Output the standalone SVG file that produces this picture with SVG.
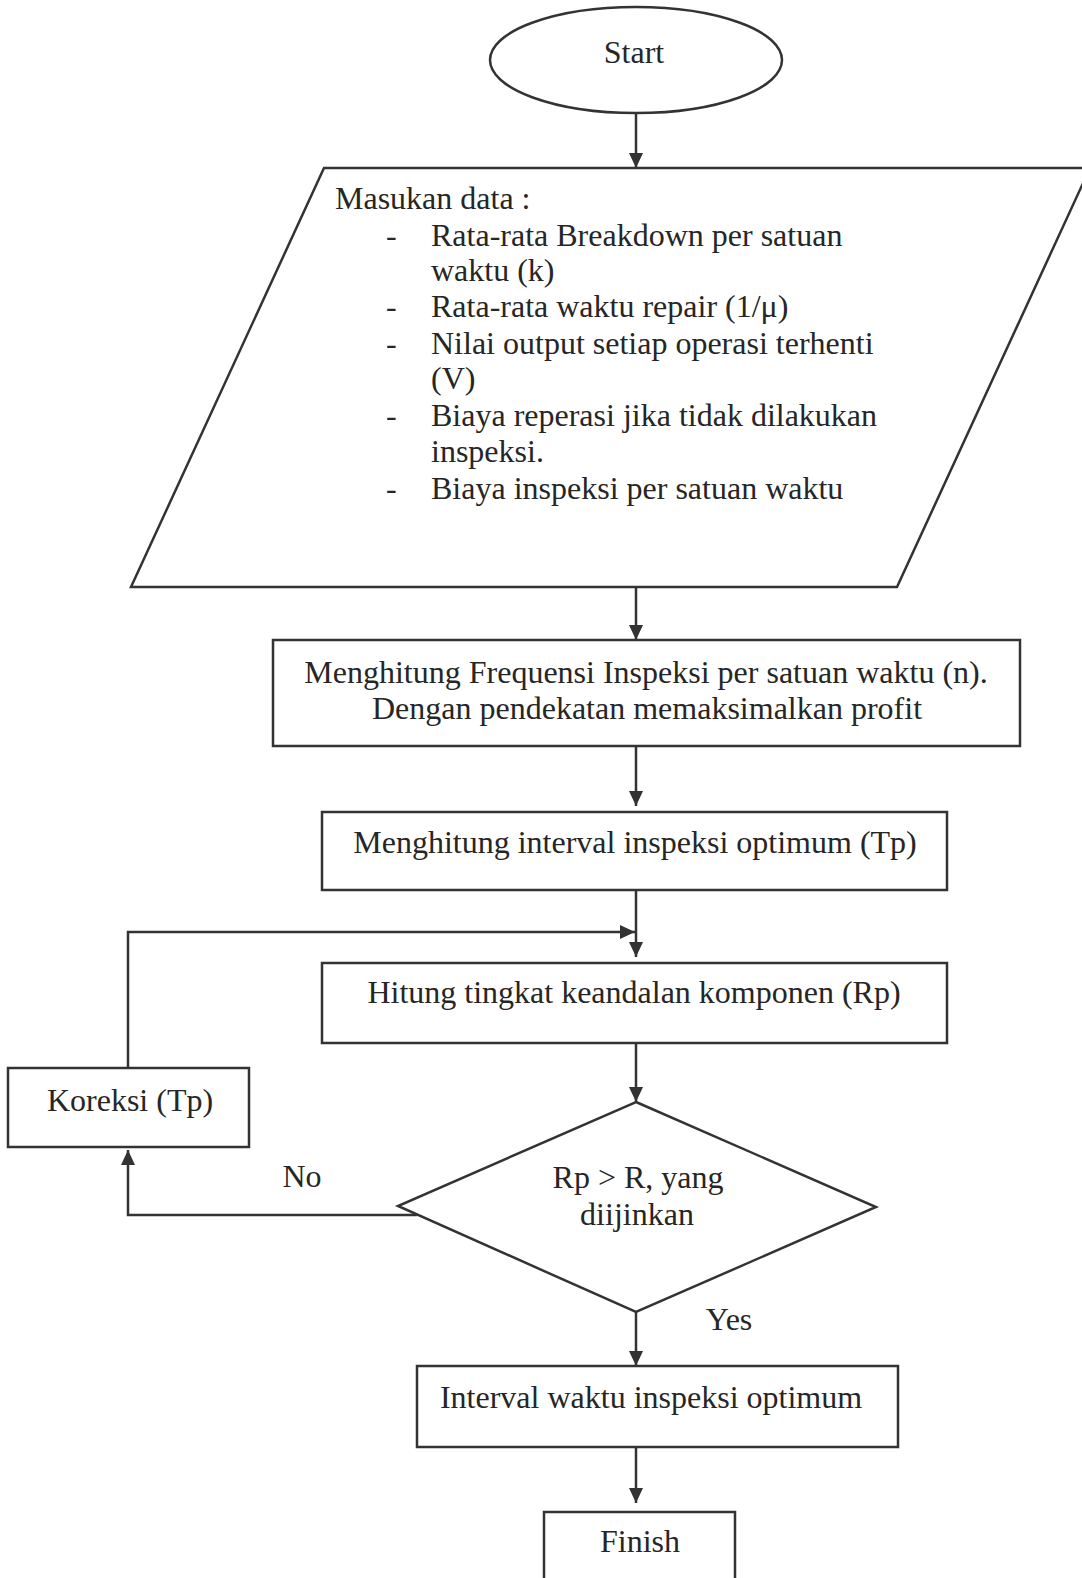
<svg xmlns="http://www.w3.org/2000/svg" width="1082" height="1578" viewBox="0 0 1082 1578">
<style>
.s{fill:none;stroke:#333;stroke-width:2.5}
.b{fill:#fff;stroke:#333;stroke-width:2.5}
text{font-family:"Liberation Serif","Times New Roman",serif;font-size:32px;fill:#262626}
.c{text-anchor:middle}
</style>
<defs>
<marker id="ah" viewBox="0 0 15 14" refX="15" refY="7" markerWidth="15" markerHeight="14" markerUnits="userSpaceOnUse" orient="auto">
<path d="M0,0 L15,7 L0,14 Z" fill="#333"/>
</marker>
</defs>
<rect width="1082" height="1578" fill="#fff"/>
<g id="connectors">
<line class="s" x1="636" y1="113" x2="636" y2="168" marker-end="url(#ah)"/>
<line class="s" x1="636" y1="587" x2="636" y2="640" marker-end="url(#ah)"/>
<line class="s" x1="636" y1="746" x2="636" y2="806" marker-end="url(#ah)"/>
<line class="s" x1="636" y1="890" x2="636" y2="957" marker-end="url(#ah)"/>
<polyline class="s" points="128,1068 128,932 635,932" marker-end="url(#ah)"/>
<line class="s" x1="636" y1="1043" x2="636" y2="1102" marker-end="url(#ah)"/>
<polyline class="s" points="417,1215 128,1215 128,1150" marker-end="url(#ah)"/>
<line class="s" x1="636" y1="1312" x2="636" y2="1366" marker-end="url(#ah)"/>
<line class="s" x1="636" y1="1447" x2="636" y2="1503" marker-end="url(#ah)"/>
</g>
<g id="start">
<ellipse class="b" cx="636" cy="60" rx="146" ry="53"/>
<text class="c" x="634" y="63">Start</text>
</g>
<g id="input">
<polygon class="b" points="324,168 1090,168 897,587 131,587"/>
<text x="335" y="209">Masukan data :</text>
<text x="386" y="246">-</text><text x="431" y="246">Rata-rata Breakdown per satuan</text>
<text x="431" y="281">waktu (k)</text>
<text x="386" y="317">-</text><text x="431" y="317">Rata-rata waktu repair (1/μ)</text>
<text x="386" y="354">-</text><text x="431" y="354">Nilai output setiap operasi terhenti</text>
<text x="431" y="389">(V)</text>
<text x="386" y="426">-</text><text x="431" y="426">Biaya reperasi jika tidak dilakukan</text>
<text x="431" y="462">inspeksi.</text>
<text x="386" y="499">-</text><text x="431" y="499">Biaya inspeksi per satuan waktu</text>
</g>
<g id="freq">
<rect class="b" x="273" y="640" width="747" height="106"/>
<text class="c" x="646" y="683">Menghitung Frequensi Inspeksi per satuan waktu (n).</text>
<text class="c" x="647" y="719">Dengan pendekatan memaksimalkan profit</text>
</g>
<g id="interval">
<rect class="b" x="322" y="812" width="625" height="78"/>
<text class="c" x="635" y="853">Menghitung interval inspeksi optimum (Tp)</text>
</g>
<g id="reliability">
<rect class="b" x="322" y="963" width="625" height="80"/>
<text class="c" x="634" y="1003">Hitung tingkat keandalan komponen (Rp)</text>
</g>
<g id="koreksi">
<rect class="b" x="8" y="1068" width="241" height="79"/>
<text class="c" x="130" y="1111">Koreksi (Tp)</text>
</g>
<g id="decision">
<polygon class="b" points="636,1102 876,1207 636,1312 398,1206"/>
<text class="c" x="638" y="1188">Rp &gt; R, yang</text>
<text class="c" x="637" y="1225">diijinkan</text>
</g>
<text class="c" x="302" y="1187">No</text>
<text class="c" x="729" y="1330">Yes</text>
<g id="result">
<rect class="b" x="417" y="1366" width="481" height="81"/>
<text class="c" x="651" y="1408">Interval waktu inspeksi optimum</text>
</g>
<g id="finish">
<rect class="b" x="544" y="1512" width="191" height="80"/>
<text class="c" x="640" y="1552">Finish</text>
</g>
</svg>
